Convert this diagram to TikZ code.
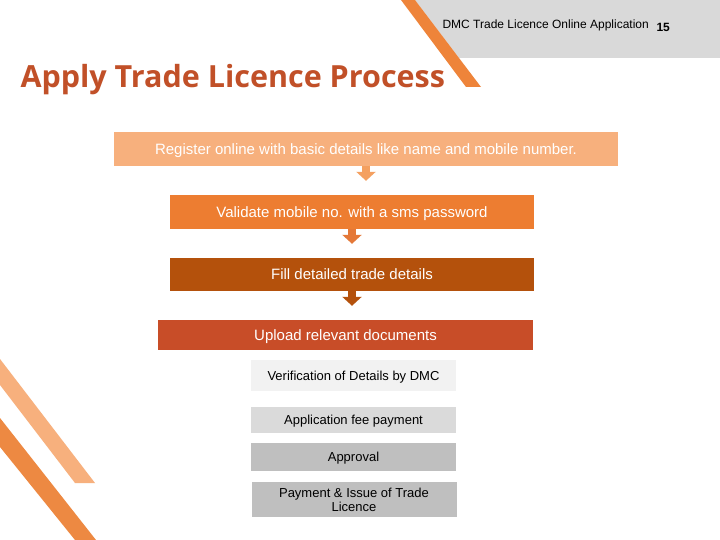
\documentclass[tikz,border=0pt]{standalone}
\usepackage{fontspec}
\setmainfont{Liberation Sans}
\newfontfamily\titlefont{Open Sans}
\usetikzlibrary{arrows.meta}

\definecolor{regcol}{RGB}{247,176,125}
\definecolor{valcol}{RGB}{237,125,49}
\definecolor{fillcol}{RGB}{180,81,12}
\definecolor{uplcol}{RGB}{200,77,40}
\definecolor{titlecol}{RGB}{193,80,40}
\definecolor{hdrgray}{RGB}{217,217,217}
\definecolor{stripecol}{RGB}{238,132,58}
\definecolor{darkstripe}{RGB}{237,137,66}
\definecolor{arrowone}{RGB}{244,160,96}
\definecolor{arrowtwo}{RGB}{228,120,56}
\definecolor{grayone}{RGB}{242,242,242}
\definecolor{graytwo}{RGB}{218,218,218}
\definecolor{graythree}{RGB}{191,191,191}

\begin{document}
\begin{tikzpicture}[x=1pt, y=-1pt, node distance=62pt,
		stepbox/.style={rectangle, inner sep=0pt, text depth=0pt, text=white, font=\fontsize{15}{17}\selectfont},
		graybox/.style={rectangle, inner sep=0pt, text depth=0pt, minimum width=205pt, align=center, font=\fontsize{13}{14}\selectfont},
		flowarr/.style={line width=8pt, -{Triangle[width=19pt,length=9pt]}, shorten >=14pt}]
			\useasboundingbox (0,0) rectangle (720,540);
			\fill[white] (0,0) rectangle (720,540);

			% header band and stripes
			\fill[hdrgray] (415,0) -- (720,0) -- (720,58) -- (459,58) -- cycle;
			\fill[stripecol] (401,0) -- (415,0) -- (481,87) -- (466,87) -- cycle;
			\fill[regcol] (0,359) -- (95,483) -- (75,483) -- (0,385) -- cycle;
			\fill[darkstripe] (0,418) -- (96,540) -- (75,540) -- (0,447) -- cycle;

			\node[anchor=west, font=\fontsize{12}{14}\selectfont] (hdr) at (439,25) {DMC Trade Licence Online Application};
			\node[anchor=west, font=\bfseries\fontsize{12}{14}\selectfont] (page) at (653,27) {15};
			\node[anchor=base west, text=titlecol, font=\titlefont\bfseries\fontsize{30.5}{36}\selectfont] (title) at (17,88) {Apply Trade Licence Process};

			\node[stepbox, fill=regcol, minimum width=504pt, minimum height=34pt] (reg) at (366,149) {Register online with basic details like name and mobile number.};
			\node[stepbox, fill=valcol, minimum width=364pt, minimum height=34pt] (val)[below of = reg, xshift=-14, yshift=-1] {Validate mobile no. with a sms password};
			\node[stepbox, fill=fillcol, minimum width=364pt, minimum height=33pt] (fill)[below of = val, yshift=-0.5] {Fill detailed trade details};
			\node[stepbox, fill=uplcol, minimum width=375pt, minimum height=30pt] (upl)[below of = fill, xshift=-6.5, yshift=1.5] {Upload relevant documents};

			\node[graybox, fill=grayone, minimum height=31pt] (verif)[below of = upl, xshift=8, yshift=21.5] {Verification of Details by DMC};
			\node[graybox, fill=graytwo, minimum height=26pt] (fee)[below of = verif, yshift=17.5] {Application fee payment};
			\node[graybox, fill=graythree, minimum height=28pt] (appr)[below of = fee, yshift=25] {Approval};
			\node[graybox, fill=graythree, minimum height=35pt] (pay)[below of = appr, xshift=0.5, yshift=19.5] {Payment \& Issue of Trade\\Licence};

			\draw[flowarr, draw=arrowone] (reg.south) -- (reg.south |- val.north);
			\draw[flowarr, draw=arrowtwo] (val.south) -- (val.south |- fill.north);
			\draw[flowarr, draw=fillcol] (fill.south) -- (fill.south |- upl.north);
		\end{tikzpicture}
\end{document}
